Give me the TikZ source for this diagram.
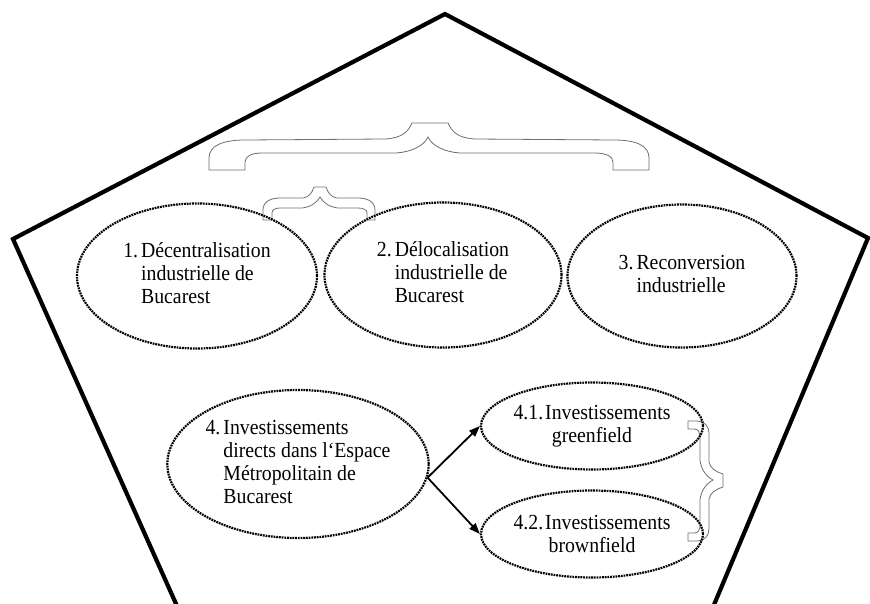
\documentclass[tikz,border=0pt]{standalone}
\usepackage{fontspec}
\setmainfont{Liberation Serif}[FakeStretch=0.92]
\usepackage{tikz}
\usetikzlibrary{arrows.meta,shapes.geometric}
\definecolor{traitgris}{RGB}{110,110,110}

\tikzset{
  etape/.style={ellipse, draw, line width=2.2pt, dash pattern=on 1.8pt off 0.9pt,
    inner sep=0pt, font=\fontsize{21.5}{23}\selectfont},
  accolade/.style={draw=traitgris, line width=0.8pt},
}

\begin{document}
\begin{tikzpicture}[x=1pt, y=-1pt, >={Triangle[length=11pt,width=8pt]}, line width=1.8pt]
    \useasboundingbox (0,0) rectangle (870,603);
    \clip (0,0) rectangle (870,603);
    % pentagone
    \draw[line width=4.2pt, line join=miter] (219,700) -- (13,239) -- (445,14) -- (868,238) -- (674,700);
    % accolades
    \draw[accolade] (209,170) -- (209,158) .. controls (209,146) and (222,140) .. (245,140) -- (385,139)
      .. controls (402,138) and (408,132) .. (412,123) -- (448,123) .. controls (452,132) and (458,138) .. (475,139)
      -- (614,140) .. controls (637,140) and (649,146) .. (649,158) -- (649,170) -- (613,170) -- (613,162)
      .. controls (613,156) and (605,153) .. (595,153) -- (460,153) .. controls (445,152) and (432,146) .. (428,137)
      .. controls (424,146) and (411,152) .. (396,153) -- (262,153) .. controls (252,153) and (245,156) .. (245,162)
      -- (245,170) -- cycle;
    \draw[accolade] (263,220) -- (263,210) .. controls (263,202) and (270,198) .. (280,198) -- (303,198)
      .. controls (309,197) and (312,193) .. (314,187) -- (326,187) .. controls (328,193) and (331,197) .. (337,198)
      -- (358,198) .. controls (368,198) and (375,202) .. (375,210) -- (375,220) -- (367,220) -- (367,213)
      .. controls (367,210) and (364,208) .. (358,208) -- (338,208) .. controls (330,207) and (323,203) .. (320,197)
      .. controls (317,203) and (310,207) .. (302,208) -- (280,208) .. controls (275,208) and (272,210) .. (272,213)
      -- (272,220) -- cycle;
    \draw[accolade] (688,421) -- (697,421) .. controls (704,421) and (709,426) .. (709,433) -- (709,462)
      .. controls (710,468) and (716,472) .. (723,474) -- (723,487) .. controls (716,489) and (710,493) .. (709,499)
      -- (709,529) .. controls (709,536) and (704,541) .. (697,541) -- (688,541) -- (688,533) -- (694,533)
      .. controls (698,533) and (700,530) .. (700,527) -- (700,500) .. controls (701,490) and (707,483) .. (713,480)
      .. controls (707,477) and (701,470) .. (700,460) -- (700,435) .. controls (700,432) and (698,429) .. (694,429)
      -- (688,429) -- cycle;
    % ellipses
    \node[etape, minimum width=240pt, minimum height=145pt] (decentr) at (197,276)
      {\begin{tabular}{@{}l@{\hspace{3pt}}l@{}}1.&Décentralisation\\&industrielle de\\&Bucarest\end{tabular}};
    \node[etape, minimum width=237pt, minimum height=145pt] (deloc) at (443,275)
      {\begin{tabular}{@{}l@{\hspace{3pt}}l@{}}2.&Délocalisation\\&industrielle de\\&Bucarest\end{tabular}};
    \node[etape, minimum width=229pt, minimum height=143pt] (reconv) at (682,276)
      {\begin{tabular}{@{}l@{\hspace{3pt}}l@{}}3.&Reconversion\\&industrielle\end{tabular}};
    \node[etape, minimum width=227pt, minimum height=148pt] (invest) at (298,464)
      {\begin{tabular}{@{}l@{\hspace{3pt}}l@{}}4.&Investissements\\&directs dans l‘Espace\\&Métropolitain de\\&Bucarest\end{tabular}};
    \node[etape, minimum width=179pt, minimum height=87pt, align=center] (green) at (592,426)
      {4.1.\hspace{2pt}Investissements\\greenfield};
    \node[etape, minimum width=179pt, minimum height=87pt, align=center] (brown) at (592,534)
      {4.2.\hspace{2pt}Investissements\\brownfield};
    % fleches
    \draw[->] (invest.-6) -- (green.west);
    \draw[->] (invest.-6) -- (brown.west);
\end{tikzpicture}
\end{document}
